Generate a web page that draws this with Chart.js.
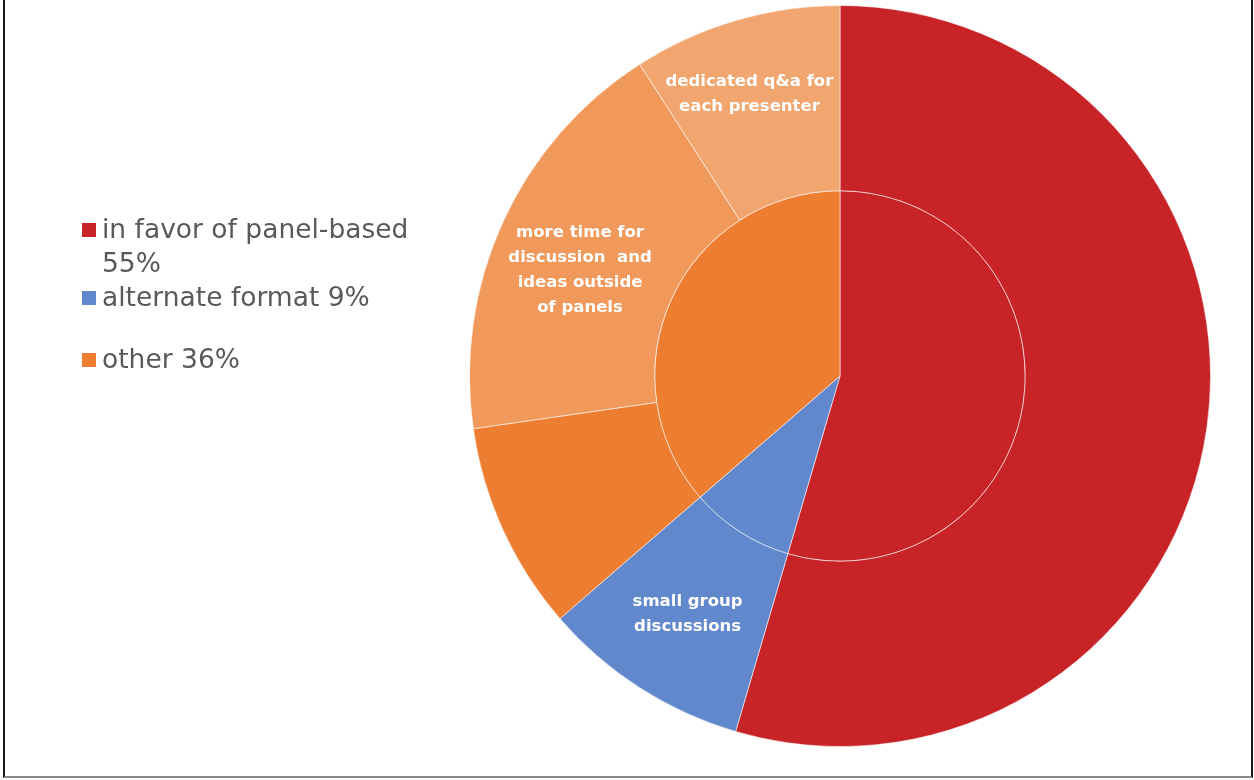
<!DOCTYPE html>
<html>
<head>
<meta charset="utf-8">
<script src="https://cdn.jsdelivr.net/npm/chart.js@4/dist/chart.umd.min.js"></script>
<style>
  body { margin: 0; background: #fff; }
  #wrap { position: relative; width: 1254px; height: 780px; }
  #frame { position: absolute; left: 3px; top: -3px; width: 1246px; height: 779px;
           border-left: 2px solid #1a1a1a; border-right: 2px solid #1a1a1a; border-bottom: 2px solid #8a8a8a; }
  #legend { position: absolute; left: 82px; top: 212px; font-family: "DejaVu Sans", sans-serif; font-size: 26.5px; color: #595959; }
  .item { position: relative; padding-left: 20px; line-height: 34px; }
  .item .box { position: absolute; left: 0; top: 11px; width: 14px; height: 14px; }
</style>
</head>
<body>
<div id="wrap">
  <canvas id="pieChart" width="1254" height="780"></canvas>
  <div id="legend"></div>
  <div id="frame"></div>
</div>
<script>
// inner pie: the three main answers (counts of responses)
const innerLabels = ['in favor of panel-based 55%', 'alternate format 9%', 'other 36%'];
const innerValues = [6, 1, 4];
const innerColors = ['#C82428', '#6187CD', '#ED7D31'];

// outer ring: breakdown of the answers
const outerLabels = ['in favor of panel-based', 'small group discussions', 'other', 'more time for discussion and ideas outside of panels', 'dedicated q&a for each presenter'];
const outerValues = [6, 1, 1, 2, 1];
const outerColors = ['#C82428', '#6187CD', '#ED7D31', '#F0995B', '#F1A56F'];
const outerText = [
    [],
    ['small group', 'discussions'],
    [],
    ['more time for', 'discussion  and', 'ideas outside', 'of panels'],
    ['dedicated q&a for', 'each presenter']
];

// legend (html)
const legendLines = [['in favor of panel-based', '55%'], ['alternate format 9%'], ['other 36%']];
const legendEl = document.getElementById('legend');
legendLines.forEach(function (lines, i) {
    const div = document.createElement('div');
    div.className = 'item';
    if (i === 2) div.style.marginTop = '28px';
    div.innerHTML = '<span class="box" style="background:' + innerColors[i] + '"></span>' + lines.join('<br>');
    legendEl.appendChild(div);
});

// small nudges so the labels sit where the original put them (radius px, angle deg)
const nudge = { 1: [4, 0], 3: [3, -2.3], 4: [19, -1.4] };

const segmentText = {
    id: 'segmentText',
    afterDatasetsDraw(chart) {
        const ctx = chart.ctx;
        const meta = chart.getDatasetMeta(0);
        ctx.save();
        ctx.fillStyle = '#fff';
        ctx.font = 'bold 16.5px "DejaVu Sans", sans-serif';
        ctx.textAlign = 'center';
        ctx.textBaseline = 'middle';
        meta.data.forEach(function (arc, i) {
            const lines = outerText[i];
            if (!lines.length) return;
            const p = arc.getProps(['x', 'y', 'startAngle', 'endAngle', 'innerRadius', 'outerRadius'], true);
            const n = nudge[i] || [0, 0];
            const mid = (p.startAngle + p.endAngle) / 2 + n[1] * Math.PI / 180;
            const r = (p.innerRadius + p.outerRadius) / 2 + n[0];
            const cx = p.x + Math.cos(mid) * r;
            const cy = p.y + Math.sin(mid) * r + 1;
            const lh = 25;
            lines.forEach(function (t, k) {
                ctx.fillText(t, cx, cy + (k - (lines.length - 1) / 2) * lh);
            });
        });
        ctx.restore();
    }
};

new Chart(document.getElementById('pieChart').getContext('2d'), {
    type: 'doughnut',
    data: {
        labels: outerLabels,
        datasets: [{
            data: outerValues,
            backgroundColor: outerColors,
            borderColor: 'rgba(255,255,255,0.55)',
            borderWidth: 1
        }, {
            data: innerValues,
            backgroundColor: innerColors,
            borderColor: 'rgba(255,255,255,0.55)',
            borderWidth: 1
        }]
    },
    options: {
        responsive: false,
        animation: false,
        cutout: 0,
        layout: { padding: { left: 469, right: 43, top: 5, bottom: 33 } },
        plugins: {
            legend: { display: false },
            tooltip: { enabled: false }
        }
    },
    plugins: [segmentText]
});
</script>
</body>
</html>
